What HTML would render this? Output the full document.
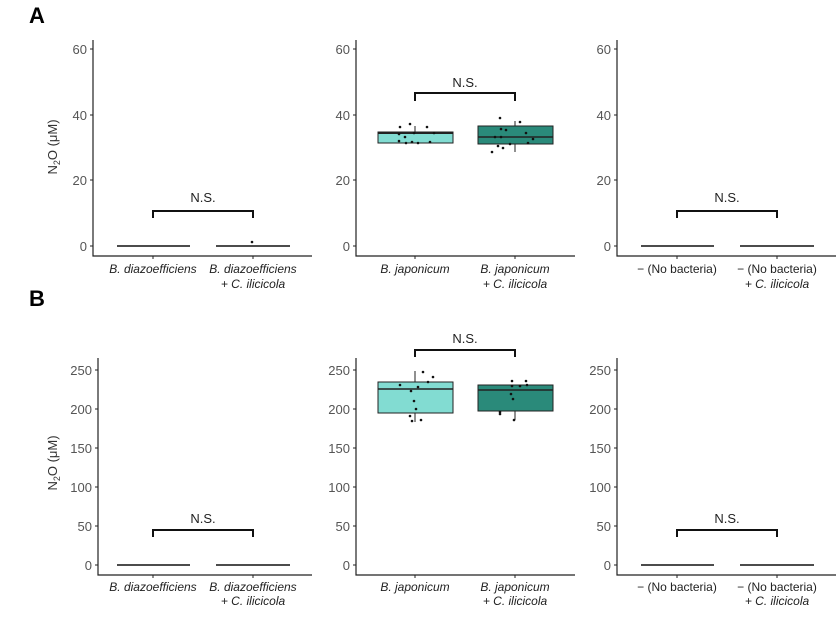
<!DOCTYPE html><html><head><style>body{margin:0;background:#fff}svg{display:block}</style></head><body>
<svg width="840" height="635" xmlns="http://www.w3.org/2000/svg" font-family="Liberation Sans, sans-serif">
<g font-weight="bold" font-size="22" fill="#000"><text x="29" y="23">A</text><text x="29" y="306">B</text></g>
<g font-size="13" fill="#333" text-anchor="middle">
<text transform="translate(57,147) rotate(-90)">N<tspan font-size="9" dy="3">2</tspan><tspan dy="-3">O (μM)</tspan></text>
<text transform="translate(57,463) rotate(-90)">N<tspan font-size="9" dy="3">2</tspan><tspan dy="-3">O (μM)</tspan></text>
</g>
<g stroke="#222" stroke-width="1.2" fill="none">
<path d="M93,40V256H312"/><path d="M356,40V256H575"/><path d="M617,40V256H836"/>
<path d="M98,358V575H312"/><path d="M356,358V575H575"/><path d="M617,358V575H836"/>
</g>
<g stroke="#222" stroke-width="1">
<path d="M90,49H93M90,115H93M90,180H93M90,246H93M353,49H356M353,115H356M353,180H356M353,246H356M614,49H617M614,115H617M614,180H617M614,246H617"/>
<path d="M153,256V259M253,256V259M415,256V259M515,256V259M677,256V259M777,256V259"/>
<path d="M95,370H98M95,409H98M95,448H98M95,487H98M95,526H98M95,565H98M353,370H356M353,409H356M353,448H356M353,487H356M353,526H356M353,565H356M614,370H617M614,409H617M614,448H617M614,487H617M614,526H617M614,565H617"/>
<path d="M153,575V578M253,575V578M415,575V578M515,575V578M677,575V578M777,575V578"/>
</g>
<g font-size="13" fill="#555" text-anchor="end">
<text x="87" y="54">60</text><text x="87" y="120">40</text><text x="87" y="185">20</text><text x="87" y="251">0</text>
<text x="350" y="54">60</text><text x="350" y="120">40</text><text x="350" y="185">20</text><text x="350" y="251">0</text>
<text x="611" y="54">60</text><text x="611" y="120">40</text><text x="611" y="185">20</text><text x="611" y="251">0</text>
<text x="92" y="375">250</text><text x="92" y="414">200</text><text x="92" y="453">150</text><text x="92" y="492">100</text><text x="92" y="531">50</text><text x="92" y="570">0</text>
<text x="350" y="375">250</text><text x="350" y="414">200</text><text x="350" y="453">150</text><text x="350" y="492">100</text><text x="350" y="531">50</text><text x="350" y="570">0</text>
<text x="611" y="375">250</text><text x="611" y="414">200</text><text x="611" y="453">150</text><text x="611" y="492">100</text><text x="611" y="531">50</text><text x="611" y="570">0</text>
</g>
<g font-size="12" fill="#222" text-anchor="middle" font-style="italic">
<text x="153" y="273">B. diazoefficiens</text><text x="253" y="273">B. diazoefficiens</text><text x="253" y="288">+ C. ilicicola</text>
<text x="415" y="273">B. japonicum</text><text x="515" y="273">B. japonicum</text><text x="515" y="288">+ C. ilicicola</text>
<text x="677" y="273" font-style="normal">− (No bacteria)</text><text x="777" y="273" font-style="normal">− (No bacteria)</text><text x="777" y="288">+ C. ilicicola</text>
<text x="153" y="591">B. diazoefficiens</text><text x="253" y="591">B. diazoefficiens</text><text x="253" y="605">+ C. ilicicola</text>
<text x="415" y="591">B. japonicum</text><text x="515" y="591">B. japonicum</text><text x="515" y="605">+ C. ilicicola</text>
<text x="677" y="591" font-style="normal">− (No bacteria)</text><text x="777" y="591" font-style="normal">− (No bacteria)</text><text x="777" y="605">+ C. ilicicola</text>
</g>
<g stroke="#111" stroke-width="2" fill="none">
<path d="M153,218V211H253V218"/><path d="M415,101V93H515V101"/><path d="M677,218V211H777V218"/>
<path d="M153,537V530H253V537"/><path d="M415,357V350H515V357"/><path d="M677,537V530H777V537"/>
</g>
<g font-size="13" fill="#222" text-anchor="middle">
<text x="203" y="202">N.S.</text><text x="465" y="87">N.S.</text><text x="727" y="202">N.S.</text>
<text x="203" y="523">N.S.</text><text x="465" y="343">N.S.</text><text x="727" y="523">N.S.</text>
</g>
<g stroke="#111" stroke-width="1.5">
<path d="M117,246H190M216,246H290M641,246H714M740,246H814"/>
<path d="M117,565H190M216,565H290M641,565H714M740,565H814"/>
</g>
<g fill="#111">
<circle cx="252" cy="242" r="1.3"/>
</g>
<g stroke="#222" stroke-width="1">
<line x1="415" y1="126" x2="415" y2="143"/>
<rect x="378" y="132" width="75" height="11" fill="#82dcd2"/>
<line x1="378" y1="133" x2="453" y2="133" stroke-width="2"/>
<line x1="515" y1="121" x2="515" y2="126"/><line x1="515" y1="144" x2="515" y2="152"/>
<rect x="478" y="126" width="75" height="18" fill="#2a8a7a"/>
<line x1="478" y1="137" x2="553" y2="137" stroke-width="1.5"/>
</g>
<g fill="#111">
<circle cx="400" cy="127" r="1.3"/><circle cx="410" cy="124" r="1.3"/><circle cx="399" cy="134" r="1.3"/><circle cx="405" cy="137" r="1.3"/><circle cx="399" cy="141" r="1.3"/><circle cx="406" cy="143" r="1.3"/><circle cx="412" cy="142" r="1.3"/><circle cx="418" cy="143" r="1.3"/><circle cx="427" cy="127" r="1.3"/><circle cx="430" cy="142" r="1.3"/><circle cx="434" cy="133" r="1.3"/><circle cx="414" cy="133" r="1.3"/>
<circle cx="500" cy="118" r="1.3"/><circle cx="501" cy="129" r="1.3"/><circle cx="506" cy="130" r="1.3"/><circle cx="501" cy="137" r="1.3"/><circle cx="495" cy="137" r="1.3"/><circle cx="498" cy="146" r="1.3"/><circle cx="503" cy="148" r="1.3"/><circle cx="492" cy="152" r="1.3"/><circle cx="510" cy="144" r="1.3"/><circle cx="520" cy="122" r="1.3"/><circle cx="526" cy="133" r="1.3"/><circle cx="528" cy="143" r="1.3"/><circle cx="533" cy="139" r="1.3"/>
</g>
<g stroke="#222" stroke-width="1">
<line x1="415" y1="371" x2="415" y2="382"/><line x1="415" y1="413" x2="415" y2="422"/>
<rect x="378" y="382" width="75" height="31" fill="#82dcd2"/>
<line x1="378" y1="389" x2="453" y2="389" stroke-width="1.5"/>
<line x1="515" y1="411" x2="515" y2="420"/>
<rect x="478" y="385" width="75" height="26" fill="#2a8a7a"/>
<line x1="478" y1="390" x2="553" y2="390" stroke-width="1.5"/>
</g>
<g fill="#111">
<circle cx="423" cy="372" r="1.3"/><circle cx="433" cy="377" r="1.3"/><circle cx="428" cy="382" r="1.3"/><circle cx="400" cy="385" r="1.3"/><circle cx="418" cy="387" r="1.3"/><circle cx="411" cy="391" r="1.3"/><circle cx="414" cy="401" r="1.3"/><circle cx="416" cy="409" r="1.3"/><circle cx="410" cy="416" r="1.3"/><circle cx="412" cy="421" r="1.3"/><circle cx="421" cy="420" r="1.3"/>
<circle cx="512" cy="381" r="1.3"/><circle cx="526" cy="381" r="1.3"/><circle cx="512" cy="386" r="1.3"/><circle cx="520" cy="386" r="1.3"/><circle cx="527" cy="385" r="1.3"/><circle cx="511" cy="394" r="1.3"/><circle cx="513" cy="399" r="1.3"/><circle cx="500" cy="412" r="1.3"/><circle cx="500" cy="414" r="1.3"/><circle cx="514" cy="420" r="1.3"/>
</g>
</svg>
</body></html>
